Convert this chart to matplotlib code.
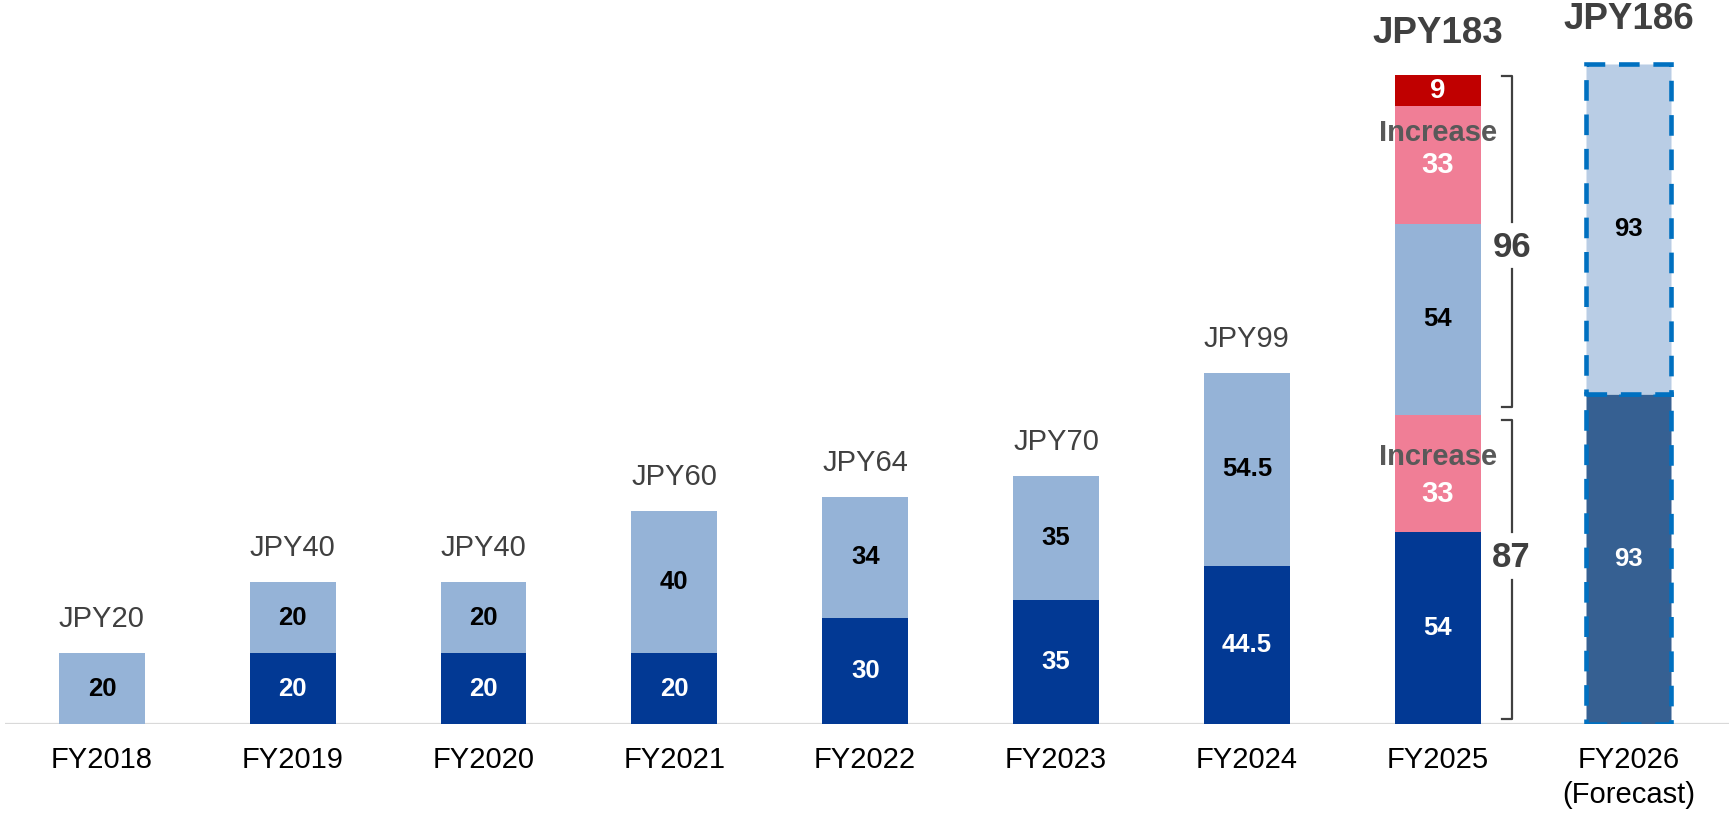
import matplotlib
matplotlib.use("Agg")
import matplotlib.pyplot as plt

plt.rcParams['font.family'] = ['Liberation Sans', 'DejaVu Sans']

# dividend per share (JPY), interim + year-end
years = ["FY2018", "FY2019", "FY2020", "FY2021", "FY2022", "FY2023",
         "FY2024", "FY2025", "FY2026\n(Forecast)"]
interim = [0, 20, 20, 20, 30, 35, 44.5, 54]
year_end = [20, 20, 20, 40, 34, 35, 54.5, 54]
totals = [20, 40, 40, 60, 64, 70, 99, 183]

# FY2025 extra pieces on top of the ordinary dividend
interim_increase = 33
year_end_increase = 33
special = 9
half_year = [87, 96]

forecast_interim = 93
forecast_year_end = 93
forecast_total = 186

DARK = '#023994'
LIGHT = '#95B3D7'
PINK = '#F07E96'
RED = '#C00000'
FC_DARK = '#366092'
FC_LIGHT = '#B9CDE5'
DASH = '#0070C0'
GREY = '#404040'

W = 0.45

fig = plt.figure(figsize=(17.29, 8.21), dpi=100)
ax = fig.add_axes([5 / 1729, 97 / 821, 1 - 5 / 1729, 1 - 97 / 821])
ax.set_xlim(-0.508, 8.527)
ax.set_ylim(0, 204)
for s in ax.spines.values():
    s.set_visible(False)
ax.set_yticks([])
ax.axhline(0, color='#D9D9D9', lw=1.6, zorder=1)

def seg_label(x, bottom, h, color, size=18.5):
    ax.text(x, bottom + h / 2, f"{h:g}", ha='center', va='center',
            fontsize=size, fontweight='bold', color=color, zorder=5)

# regular years
for i in range(7):
    if interim[i]:
        ax.bar(i, interim[i], W, color=DARK, zorder=2)
        seg_label(i, 0, interim[i], 'white')
    ax.bar(i, year_end[i], W, bottom=interim[i], color=LIGHT, zorder=2)
    seg_label(i, interim[i], year_end[i], 'black')
    ax.text(i, totals[i] + 9.5, f"JPY{totals[i]}", ha='center', va='center',
            fontsize=21, color=GREY)

# FY2025 stack
i = 7
stack = [(interim[i], DARK, 'white'),
         (interim_increase, PINK, None),
         (year_end[i], LIGHT, 'black'),
         (year_end_increase, PINK, None),
         (special, RED, 'white')]
bottom = 0
inc_offsets = [(11.8, 22.2), (7.5, 16.5)]
k = 0
for h, c, tc in stack:
    ax.bar(i, h, W, bottom=bottom, color=c, zorder=2)
    if tc is None:
        top = bottom + h
        ax.text(i, top - inc_offsets[k][0], "Increase", ha='center', va='center',
                fontsize=21, fontweight='bold', color='#595959', zorder=5)
        ax.text(i, top - inc_offsets[k][1], f"{h:g}", ha='center', va='center',
                fontsize=21, fontweight='bold', color='white', zorder=5)
        k += 1
    elif h == special:
        seg_label(i, bottom, h, tc, size=20)
    else:
        seg_label(i, bottom, h, tc)
    bottom += h
ax.text(i, 194.6, f"JPY{totals[i]}", ha='center', va='center',
        fontsize=26.5, fontweight='bold', color=GREY)

# brackets for interim / year-end totals
bx = i + 0.388
tk = 0.052
brackets = [(1.4, 85.6, 40.6, 54.0, 46.8, half_year[0]),
            (89.3, 182.5, 128.2, 141.4, 134.4, half_year[1])]
for y0, y1, g0, g1, ty, val in brackets:
    ax.plot([bx - tk, bx, bx], [y0, y0, g0], color=GREY, lw=1.6,
            solid_joinstyle='round')
    ax.plot([bx, bx, bx - tk], [g1, y1, y1], color=GREY, lw=1.6,
            solid_joinstyle='round')
    ax.text(bx, ty, f"{val}", ha='center', va='center', fontsize=25,
            fontweight='bold', color=GREY)

# FY2026 forecast
i = 8
ax.bar(i, forecast_interim, W, color=FC_DARK, edgecolor=DASH, lw=3.3,
       linestyle=(0, (4.5, 3)), zorder=2)
ax.bar(i, forecast_year_end, W, bottom=forecast_interim, color=FC_LIGHT,
       edgecolor=DASH, lw=3.3, linestyle=(0, (4.5, 3)), zorder=2)
seg_label(i, 0, forecast_interim, 'white')
seg_label(i, forecast_interim, forecast_year_end, 'black')
ax.text(i, 198.6, f"JPY{forecast_total}", ha='center', va='center',
        fontsize=26.5, fontweight='bold', color=GREY)

ax.set_xticks(range(len(years)))
ax.set_xticklabels(years, fontsize=21, color='black', linespacing=1.3)
ax.tick_params(axis='x', length=0, pad=16)

fig.savefig("out.png", dpi=100)
